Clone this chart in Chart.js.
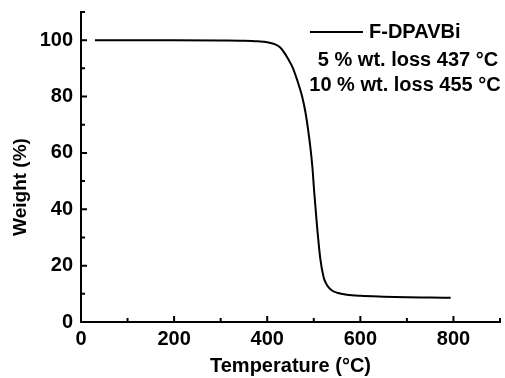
<!DOCTYPE html>
<html>
<head>
<meta charset="utf-8">
<script src="https://cdn.jsdelivr.net/npm/chart.js@4/dist/chart.umd.min.js"></script>
<style>
	html, body { margin: 0; padding: 0; background: #fff; }
	#wrap { width: 505px; height: 378px; }
</style>
</head>
<body>
<div id="wrap"><canvas id="tgaChart" width="505" height="378"></canvas></div>
<script>
// TGA curve
const temperatures = [30, 100, 200, 300, 350, 380, 400, 416, 428, 437, 445, 455, 464, 475, 482, 488, 493, 497, 501, 507, 514, 521, 526, 532, 540, 550, 571, 600, 650, 700, 750, 794];
const weights = [100, 100, 100, 99.9, 99.8, 99.6, 99.3, 98.6, 97.4, 95.5, 93.3, 90.2, 86, 80, 74.5, 68, 61.5, 55, 46, 34, 22.5, 16, 13.8, 12.3, 11.1, 10.4, 9.7, 9.3, 9.0, 8.8, 8.7, 8.6];

const xTicks = [0, 200, 400, 600, 800];
const xMinorTicks = [100, 300, 500, 700, 900];
const yTicks = [0, 20, 40, 60, 80, 100];
const yMinorTicks = [10, 30, 50, 70, 90, 110];

const seriesName = 'F-DPAVBi';
const notes = ['5 % wt. loss 437 \u00B0C', '10 % wt. loss 455 \u00B0C'];
const yTitle = 'Weight (%)';
const xTitle = 'Temperature (\u00B0C)';

const FONT = '"Liberation Sans", Arial, sans-serif';

// inward ticks, y title and the text box in the top right
const decorations = {
	id: 'decorations',
	afterDraw(chart) {
		const ctx = chart.ctx;
		const xs = chart.scales.x;
		const ys = chart.scales.y;
		const left = xs.left;
		const bottom = ys.bottom;
		ctx.save();
		ctx.strokeStyle = '#000';
		ctx.lineWidth = 2;
		ctx.beginPath();
		xTicks.forEach((v) => {
			const p = xs.getPixelForValue(v);
			ctx.moveTo(p, bottom); ctx.lineTo(p, bottom - 6);
		});
		xMinorTicks.forEach((v) => {
			const p = xs.getPixelForValue(v);
			ctx.moveTo(p, bottom); ctx.lineTo(p, bottom - 4);
		});
		yTicks.forEach((v) => {
			const p = ys.getPixelForValue(v);
			ctx.moveTo(left, p); ctx.lineTo(left + 6, p);
		});
		yMinorTicks.forEach((v) => {
			const p = ys.getPixelForValue(v);
			ctx.moveTo(left, p); ctx.lineTo(left + 4, p);
		});
		ctx.stroke();

		ctx.fillStyle = '#000';
		ctx.textBaseline = 'middle';

		// y title, sits a bit below the middle of the axis
		ctx.save();
		ctx.translate(21, 187);
		ctx.rotate(-Math.PI / 2);
		ctx.font = 'bold 19px ' + FONT;
		ctx.textAlign = 'center';
		ctx.fillText(yTitle, 0, 0);
		ctx.restore();

		// legend
		ctx.beginPath();
		ctx.moveTo(310, 32); ctx.lineTo(363, 32);
		ctx.stroke();
		ctx.font = 'bold 20px ' + FONT;
		ctx.textAlign = 'left';
		ctx.fillText(seriesName, 369, 32);
		ctx.textAlign = 'center';
		ctx.fillText(notes[0], 408, 60);
		ctx.fillText(notes[1], 405, 85);
		ctx.restore();
	}
};

const ctx = document.getElementById('tgaChart').getContext('2d');

new Chart(ctx, {
	type: 'line',
	data: {
		datasets: [
			{
				label: seriesName,
				data: temperatures.map((t, i) => ({ x: t, y: weights[i] })),
				borderColor: '#000',
				borderWidth: 2,
				pointRadius: 0,
				fill: false,
				cubicInterpolationMode: 'monotone',
			},
		],
	},
	options: {
		responsive: false,
		animation: false,
		layout: { padding: { top: 12, right: 5, left: 0, bottom: 0 } },
		plugins: {
			legend: { display: false },
			tooltip: { enabled: false },
		},
		scales: {
			x: {
				type: 'linear',
				min: 0,
				max: 900,
				afterBuildTicks: (s) => { s.ticks = xTicks.map((v) => ({ value: v })); },
				afterFit: (s) => {
					s.height = 56;
					s.paddingLeft = 0;
					s.paddingRight = 0;
				},
				grid: { display: false, drawTicks: false },
				border: { display: true, color: '#000', width: 2 },
				ticks: {
					color: '#000',
					padding: 5,
					maxRotation: 0,
					font: { family: FONT, size: 20, weight: 'bold' },
				},
				title: {
					display: true,
					text: xTitle,
					color: '#000',
					padding: { top: 0, bottom: 0 },
					font: { family: FONT, size: 20, weight: 'bold' },
				},
			},
			y: {
				min: 0,
				max: 110,
				afterBuildTicks: (s) => { s.ticks = yTicks.map((v) => ({ value: v })); },
				afterFit: (s) => {
					s.width = 81;
					s.paddingTop = 0;
					s.paddingBottom = 0;
				},
				grid: { display: false, drawTicks: false },
				border: { display: true, color: '#000', width: 2 },
				ticks: {
					color: '#000',
					padding: 8,
					font: { family: FONT, size: 20, weight: 'bold' },
				},
			},
		},
	},
	plugins: [decorations],
});
</script>
</body>
</html>
